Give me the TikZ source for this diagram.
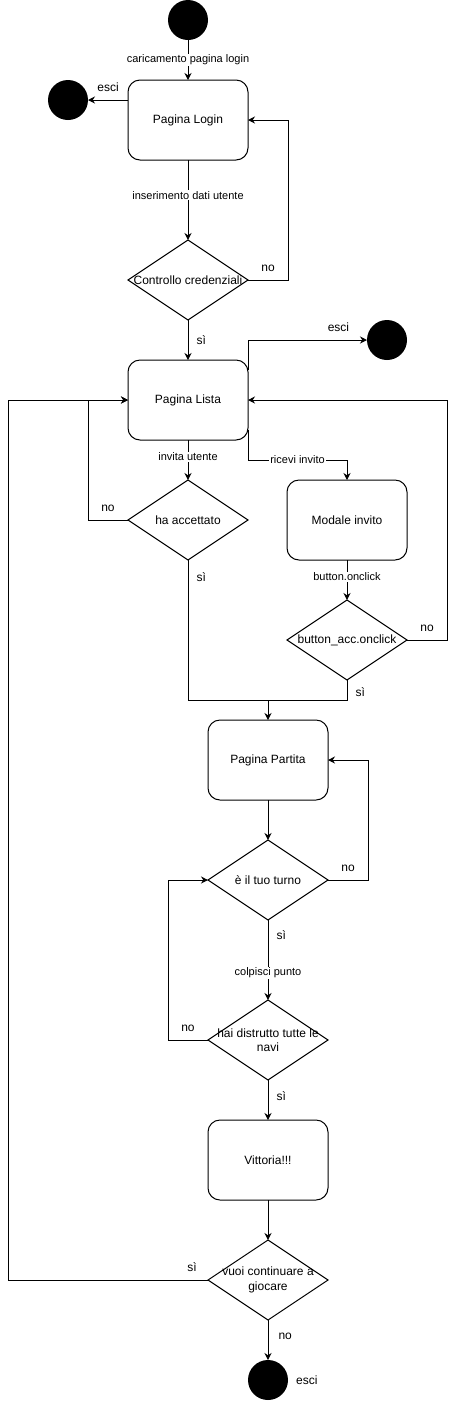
\documentclass[tikz,border=0pt]{standalone}
\usepackage{fontspec}
\setmainfont{Liberation Sans}
\usepackage{tikz}
\usetikzlibrary{arrows.meta,shapes.geometric}
\tikzset{
	state/.style={draw, line width=1pt, rounded corners=12pt, minimum width=120pt, minimum height=80pt, inner sep=0pt, outer sep=0pt, font=\fontsize{12}{14.5}\selectfont},
	decision/.style={draw, line width=1pt, diamond, minimum width=120pt, minimum height=80pt, inner sep=0pt, outer sep=0pt},
	startstop/.style={circle, fill=black, minimum size=40pt, inner sep=0pt, outer sep=0pt},
	flow/.style={line width=1pt, -{Stealth[length=7pt,width=7pt]}},
	plain/.style={line width=1pt},
	edgelabel/.style={fill=white, inner sep=1pt, font=\fontsize{11}{13}\selectfont},
	textlabel/.style={inner sep=2pt, font=\fontsize{12}{14.5}\selectfont},
	dtext/.style={align=center, inner sep=0pt, font=\fontsize{12}{14.5}\selectfont}
}
\begin{document}
\begin{tikzpicture}[x=1pt, y=-1pt]
			%%%%% START %%%%%
			\useasboundingbox (0, 0) rectangle (456, 1401);
			
			\node[startstop] (inizio) at (188, 20) {};
			\node[state] (login) at (188, 120) {Pagina Login};
			\node[startstop] (esciLogin) at (68, 100) {};
			\node[decision, label={[dtext]center:Controllo credenziali}] (credenziali) at (188, 280) {};
			
			\draw[flow] (inizio) -- node[edgelabel] {caricamento pagina login} (login);
			\draw[flow] (login.west |- esciLogin) -- node[textlabel, above=6pt] {esci} (esciLogin);
			\draw[flow] (login) -- node[edgelabel, pos=0.44] {inserimento dati utente} (credenziali);
			\draw[flow] (credenziali.east) -- node[textlabel, above=6pt] {no} ++(40, 0) |- (login.east);
			
			\node[state] (lista) at (188, 400) {Pagina Lista};
			\node[startstop] (esciLista) at (387, 340) {};
			\node[decision, label={[dtext]center:ha accettato}] (accettato) at (188, 520) {};
			\node[state] (modale) at (347, 520) {Modale invito};
			\node[decision, label={[dtext]center:button\_acc.onclick}] (buttonacc) at (347, 640) {};
			\coordinate (giunzione) at (268, 700);
			
			\draw[flow] (credenziali) -- node[textlabel, right=6pt] {sì} (lista);
			\draw[flow] ([yshift=30pt]lista.east) |- node[textlabel, above=6pt, pos=0.88] {esci} (esciLista);
			\draw[flow] (lista) -- node[edgelabel, pos=0.42] {invita utente} (accettato);
			\draw[flow] ([yshift=-30pt]lista.east) -- ++(0, 30) -| node[edgelabel, pos=0.25] {ricevi invito} (modale.north);
			\draw[flow] (accettato.west) -- node[textlabel, above=6pt] {no} ++(-40, 0) |- (lista.west);
			\draw[flow] (modale) -- node[edgelabel, pos=0.42] {button.onclick} (buttonacc);
			\draw[flow] (buttonacc.east) -- node[textlabel, above=6pt] {no} ++(40, 0) |- (lista.east);
			\draw[plain] (accettato.south) |- node[textlabel, right=6pt, pos=0.06] {sì} (giunzione);
			\draw[plain] (buttonacc.south) |- node[textlabel, right=6pt, pos=0.3] {sì} (giunzione);
			
			\node[state] (partita) at (268, 760) {Pagina Partita};
			\node[decision, label={[dtext]center:è il tuo turno}] (turno) at (268, 880) {};
			\node[decision, label={[dtext]center:hai distrutto tutte le\\navi}] (distrutto) at (268, 1040) {};
			
			\draw[flow] (giunzione) -- (partita);
			\draw[flow] (partita) -- (turno);
			\draw[flow] (turno.east) -- node[textlabel, above=6pt] {no} ++(40, 0) |- (partita.east);
			\draw[flow] (turno) -- node[textlabel, right=6pt, pos=0.19] {sì} node[edgelabel, pos=0.66] {colpisci punto} (distrutto);
			\draw[flow] (distrutto.west) -- node[textlabel, above=6pt] {no} ++(-40, 0) |- (turno.west);
			
			\node[state] (vittoria) at (268, 1160) {Vittoria!!!};
			\node[decision, label={[dtext]center:vuoi continuare a\\giocare}] (continuare) at (268, 1280) {};
			\node[startstop, label={[textlabel, xshift=6pt]right:esci}] (fine) at (268, 1380) {};
			
			\draw[flow] (distrutto) -- node[textlabel, right=6pt, pos=0.4] {sì} (vittoria);
			\draw[flow] (vittoria) -- (continuare);
			\draw[flow] (continuare.west) -- node[textlabel, above=6pt, pos=0.08] {sì} ++(-200, 0) |- (lista.west);
			\draw[flow] (continuare) -- node[textlabel, right=8pt, pos=0.4] {no} (fine);
			
			%%%%% END %%%%%
		\end{tikzpicture}
\end{document}
